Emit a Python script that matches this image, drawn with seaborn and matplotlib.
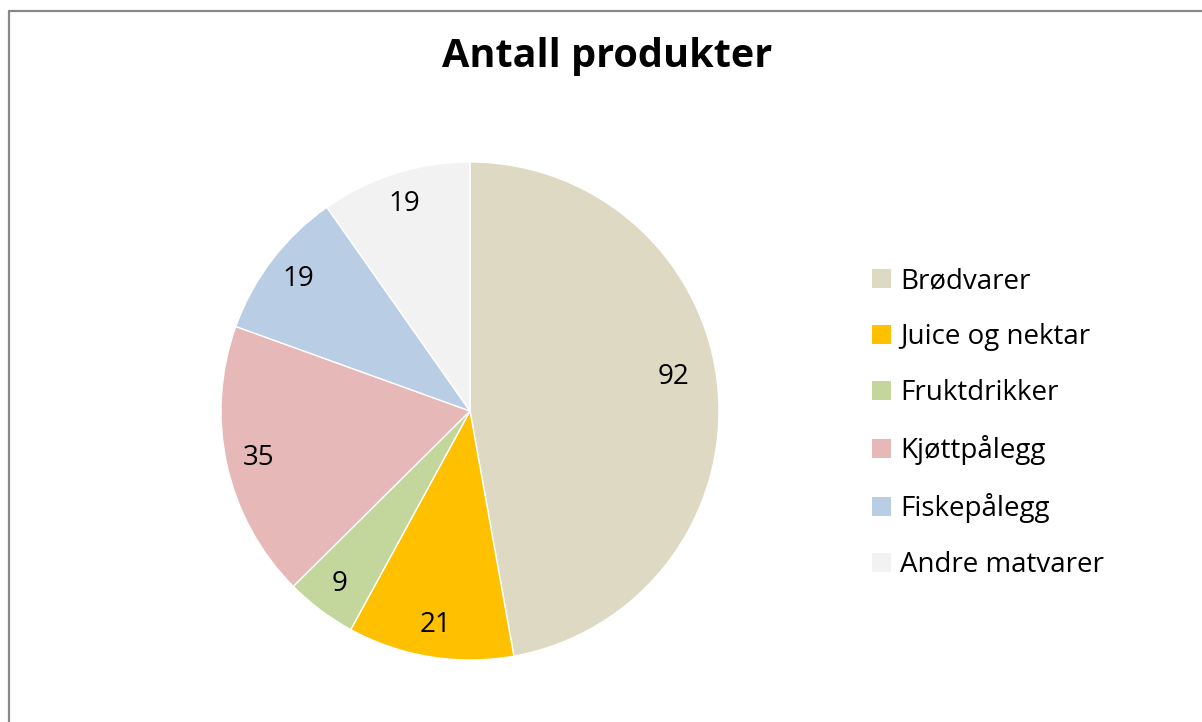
import matplotlib
matplotlib.use("Agg")
import matplotlib.pyplot as plt
import seaborn as sns
from matplotlib.lines import Line2D
from matplotlib.patches import Patch

# Chart data
categories = ["Brødvarer", "Juice og nektar", "Fruktdrikker",
              "Kjøttpålegg", "Fiskepålegg", "Andre matvarer"]
values = [92, 21, 9, 35, 19, 19]
colors = ["#DDD9C3", "#FFC000", "#C3D69B", "#E6B9B8", "#B9CDE5", "#F2F2F2"]
title = "Antall produkter"

sns.set_theme(style="white")
plt.rcParams["font.family"] = ["Open Sans", "DejaVu Sans"]
plt.rcParams["text.color"] = "black"

W, H = 1202, 722
fig = plt.figure(figsize=(W / 100, H / 100), dpi=100)
fig.patch.set_facecolor("white")

# pie centre (470, 411) px, radius 249 px
cx, cy, r = 470, 411, 249
ax = fig.add_axes([(cx - r) / W, (H - cy - r) / H, 2 * r / W, 2 * r / H])

palette = sns.color_palette(colors)
total = sum(values)
wedges, texts, autotexts = ax.pie(
    values, colors=palette, startangle=90, counterclock=False,
    autopct=lambda p: f"{round(p * total / 100):.0f}", pctdistance=0.87,
    wedgeprops=dict(edgecolor="white", linewidth=1),
    textprops=dict(fontsize=20, color="black"))
ax.set_xlim(-1, 1)
ax.set_ylim(-1, 1)
ax.set_aspect("equal")
# the big slice's label sits a bit higher and inward (Excel best fit)
autotexts[0].set_position((0.817, 0.137))

fig.text(607 / W, 1 - 67 / H, title, ha="center", va="baseline",
         fontsize=28.5, fontweight="bold", color="black")

handles = [Patch(facecolor=c, edgecolor="none") for c in palette]
fig.legend(handles, categories, loc="center left",
           bbox_to_anchor=(872 / W, 1 - 423 / H), frameon=False,
           fontsize=20, handlelength=0.68, handleheight=0.68,
           handletextpad=0.32, labelspacing=1.01, borderpad=0,
           borderaxespad=0, labelcolor="black")

# chart area border (top and left visible)
fig.add_artist(Line2D([8.5 / W, 1], [1 - 10.5 / H, 1 - 10.5 / H],
                      transform=fig.transFigure, color="#888888", lw=1.6))
fig.add_artist(Line2D([8.5 / W, 8.5 / W], [0, 1 - 10.5 / H],
                      transform=fig.transFigure, color="#888888", lw=1.6))

fig.savefig("out.png", dpi=100)
